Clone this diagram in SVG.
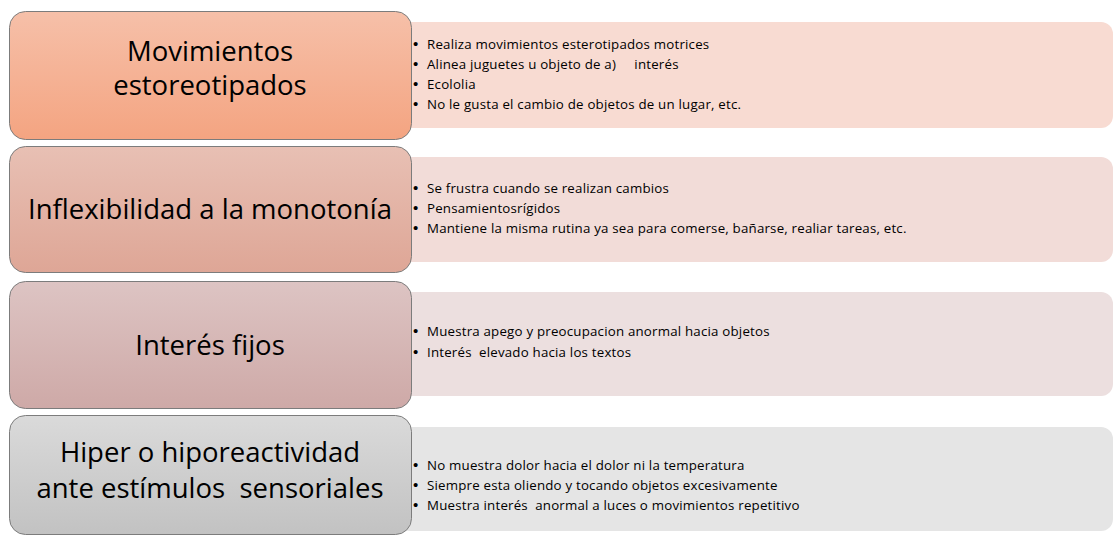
<svg xmlns="http://www.w3.org/2000/svg" width="1118" height="536" viewBox="0 0 1118 536">
<style>
.box{stroke:#7c7c7c;stroke-width:1}
.title{font-family:"Open Sans","Liberation Sans",sans-serif;font-size:27.5px;fill:#000;text-anchor:middle;white-space:pre}
.item{font-family:"Open Sans","Liberation Sans",sans-serif;font-size:13.3px;letter-spacing:0.2px;fill:#000;white-space:pre}
.b{font-size:15px;font-family:"Liberation Sans",sans-serif}
</style>
<defs>
<linearGradient id="g1" x1="0" y1="0" x2="0" y2="1"><stop offset="0" stop-color="#f6c0a9"/><stop offset="1" stop-color="#f4a481"/></linearGradient>
<linearGradient id="g2" x1="0" y1="0" x2="0" y2="1"><stop offset="0" stop-color="#e8c0b4"/><stop offset="1" stop-color="#dea696"/></linearGradient>
<linearGradient id="g3" x1="0" y1="0" x2="0" y2="1"><stop offset="0" stop-color="#ddc4c3"/><stop offset="1" stop-color="#cea9a7"/></linearGradient>
<linearGradient id="g4" x1="0" y1="0" x2="0" y2="1"><stop offset="0" stop-color="#dadada"/><stop offset="1" stop-color="#c2c2c2"/></linearGradient>
</defs>
<rect width="1118" height="536" fill="#ffffff"/>
<g id="connectors"></g>
<g id="row1">
<rect x="398" y="22" width="715" height="106" rx="12" fill="#f8dbd2"/>
<rect class="box" x="9.5" y="11.5" width="402" height="128" rx="16" fill="url(#g1)"/>
<text class="title" x="210" y="61">Movimientos</text>
<text class="title" x="210" y="95">estoreotipados</text>
<text class="item" y="49"><tspan class="b" x="413">•</tspan><tspan x="427">Realiza movimientos esterotipados motrices</tspan></text>
<text class="item" y="69"><tspan class="b" x="413">•</tspan><tspan x="427">Alinea juguetes u objeto de a)     interés</tspan></text>
<text class="item" y="89"><tspan class="b" x="413">•</tspan><tspan x="427">Ecololia</tspan></text>
<text class="item" y="109"><tspan class="b" x="413">•</tspan><tspan x="427">No le gusta el cambio de objetos de un lugar, etc.</tspan></text>
</g>
<g id="row2">
<rect x="398" y="157" width="715" height="105" rx="12" fill="#f2dcd8"/>
<rect class="box" x="9.5" y="146.5" width="402" height="126" rx="16" fill="url(#g2)"/>
<text class="title" x="210" y="219">Inflexibilidad a la monotonía</text>
<text class="item" y="193"><tspan class="b" x="413">•</tspan><tspan x="427">Se frustra cuando se realizan cambios</tspan></text>
<text class="item" y="213"><tspan class="b" x="413">•</tspan><tspan x="427">Pensamientosrígidos</tspan></text>
<text class="item" y="233"><tspan class="b" x="413">•</tspan><tspan x="427">Mantiene la misma rutina ya sea para comerse, bañarse, realiar tareas, etc.</tspan></text>
</g>
<g id="row3">
<rect x="398" y="292" width="715" height="104" rx="12" fill="#ecdfdf"/>
<rect class="box" x="9.5" y="281.5" width="402" height="127" rx="16" fill="url(#g3)"/>
<text class="title" x="210" y="355">Interés fijos</text>
<text class="item" y="336"><tspan class="b" x="413">•</tspan><tspan x="427">Muestra apego y preocupacion anormal hacia objetos</tspan></text>
<text class="item" y="357"><tspan class="b" x="413">•</tspan><tspan x="427">Interés  elevado hacia los textos</tspan></text>
</g>
<g id="row4">
<rect x="398" y="427" width="715" height="104" rx="12" fill="#e5e5e5"/>
<rect class="box" x="9.5" y="415.5" width="402" height="119" rx="16" fill="url(#g4)"/>
<text class="title" x="210" y="462">Hiper o hiporeactividad</text>
<text class="title" x="210" y="498">ante estímulos  sensoriales</text>
<text class="item" y="470"><tspan class="b" x="413">•</tspan><tspan x="427">No muestra dolor hacia el dolor ni la temperatura</tspan></text>
<text class="item" y="490"><tspan class="b" x="413">•</tspan><tspan x="427">Siempre esta oliendo y tocando objetos excesivamente</tspan></text>
<text class="item" y="510"><tspan class="b" x="413">•</tspan><tspan x="427">Muestra interés  anormal a luces o movimientos repetitivo</tspan></text>
</g>
</svg>
